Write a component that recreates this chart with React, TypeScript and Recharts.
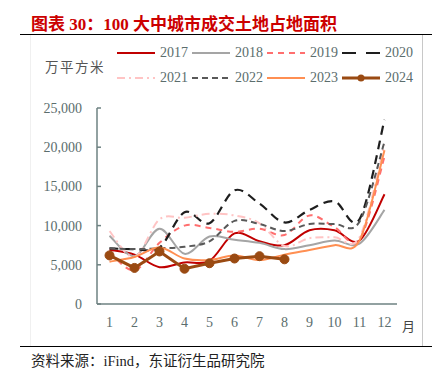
import React from 'react'
import { LineChart, Line, XAxis, YAxis } from 'recharts'

// months 1-12
const months = [1, 2, 3, 4, 5, 6, 7, 8, 9, 10, 11, 12]
const yTicks = [0, 5000, 10000, 15000, 20000, 25000]
const bandTicks = [0.5, 1.5, 2.5, 3.5, 4.5, 5.5, 6.5, 7.5, 8.5, 9.5, 10.5, 11.5, 12.5]

const s2017 = [6900, 6300, 4700, 5300, 5500, 9000, 8000, 7500, 9400, 9400, 8100, 14000]
const s2018 = [8700, 6100, 9600, 6400, 8600, 8200, 7800, 7000, 7500, 8100, 7700, 12000]
const s2019 = [6600, 4300, 7800, 10000, 9700, 9200, 9600, 8800, 11300, 9800, 8200, 18800]
const s2020 = [7100, 7000, 7200, 11700, 10300, 14500, 12800, 10400, 12000, 13100, 10800, 23500]
const s2021 = [9300, 6000, 10800, 11000, 11500, 11300, 10300, 7400, 8400, 8500, 8500, 20300]
const s2022 = [7100, 7000, 7100, 7300, 8000, 10600, 10200, 9300, 10200, 10200, 10500, 20700]
const s2023 = [5400, 6000, 7200, 5800, 5600, 6200, 5600, 6300, 6900, 7500, 8100, 19600]
const s2024 = [6200, 4600, 6700, 4500, 5200, 5800, 6100, 5700]

const data = months.map((m, i) => ({
  m,
  y2017: s2017[i],
  y2018: s2018[i],
  y2019: s2019[i],
  y2020: s2020[i],
  y2021: s2021[i],
  y2022: s2022[i],
  y2023: s2023[i],
  y2024: s2024[i],
}))

// style per series
const series = [
  { key: 'y2017', name: '2017', color: '#c00000', dash: undefined, w: 2, smooth: true },
  { key: 'y2018', name: '2018', color: '#a5a5a5', dash: undefined, w: 2, smooth: true },
  { key: 'y2019', name: '2019', color: '#ff6f6f', dash: '6 5', w: 2, smooth: true },
  { key: 'y2020', name: '2020', color: '#1e1e1e', dash: '9 6', w: 2.2, smooth: true },
  { key: 'y2021', name: '2021', color: '#ffc4c4', dash: '8 4 2 4', w: 2, smooth: true },
  { key: 'y2022', name: '2022', color: '#595959', dash: '6 4', w: 2, smooth: true },
  { key: 'y2023', name: '2023', color: '#ff8f52', dash: undefined, w: 2, smooth: true },
  { key: 'y2024', name: '2024', color: '#9a4a12', dash: undefined, w: 3, smooth: false },
]

// excel-like smoothed line (catmull-rom through the points)
const smoothCurve = (ctx: any) => {
  let pts: number[][] = []
  return {
    areaStart() {},
    areaEnd() {},
    lineStart() { pts = [] },
    point(x: number, y: number) { pts.push([+x, +y]) },
    lineEnd() {
      if (!pts.length) return
      ctx.moveTo(pts[0][0], pts[0][1])
      for (let i = 0; i < pts.length - 1; i++) {
        const p0 = pts[Math.max(i - 1, 0)]
        const p1 = pts[i]
        const p2 = pts[i + 1]
        const p3 = pts[Math.min(i + 2, pts.length - 1)]
        ctx.bezierCurveTo(
          p1[0] + (p2[0] - p0[0]) / 6, p1[1] + (p2[1] - p0[1]) / 6,
          p2[0] - (p3[0] - p1[0]) / 6, p2[1] - (p3[1] - p1[1]) / 6,
          p2[0], p2[1]
        )
      }
    },
  }
}

const axisColor = '#6e8282'
const textColor = '#5b6d6d'
const serif = "'Liberation Serif', 'DejaVu Serif', serif"
const cjk = "'Liberation Serif', 'Noto Sans CJK SC', sans-serif"

function LegendItem({ s }: { s: typeof series[number] }) {
  return (
    <div style={{ display: 'flex', alignItems: 'center', width: 75, height: 16 }}>
      <svg width={39} height={10} style={{ marginRight: 4 }}>
        <line x1={0} y1={5} x2={38} y2={5} stroke={s.color} strokeWidth={s.w} strokeDasharray={s.dash ? (s.key === 'y2020' ? '14 10' : s.dash) : undefined} />
        {s.key === 'y2024' && <circle cx={19} cy={5} r={3.5} fill={s.color} />}
      </svg>
      <span style={{ fontFamily: serif, fontSize: 14, color: textColor, lineHeight: '16px' }}>{s.name}</span>
    </div>
  )
}

export default function App() {
  return (
    <div style={{ position: 'absolute', left: 0, top: 0, width: 441, height: 377, background: '#fff', overflow: 'hidden' }}>
      {/* title */}
      <div style={{ position: 'absolute', left: 31, top: 10, fontFamily: cjk, fontSize: 17, fontWeight: 700, color: '#cc0000', whiteSpace: 'nowrap' }}>
        图表 30：100 大中城市成交土地占地面积
      </div>
      <div style={{ position: 'absolute', left: 20, top: 34, width: 412, height: 1, background: '#000' }} />
      <div style={{ position: 'absolute', left: 30, top: 35, width: 1, height: 312, background: '#f0f0f0' }} />
      <div style={{ position: 'absolute', left: 422, top: 35, width: 1, height: 312, background: '#c8c8c8' }} />

      {/* unit */}
      <div style={{ position: 'absolute', left: 45, top: 56, fontFamily: "'Noto Sans CJK SC', sans-serif", fontSize: 13.5, letterSpacing: 1.5, color: '#555' }}>
        万平方米
      </div>

      {/* legend */}
      <div style={{ position: 'absolute', left: 117, top: 45, width: 310, display: 'flex', flexWrap: 'wrap', rowGap: 9 }}>
        {series.map(s => <LegendItem key={s.key} s={s} />)}
      </div>

      <div style={{ position: 'absolute', left: 0, top: 0 }}>
        <LineChart width={441} height={377} data={data} margin={{ top: 108, right: 44, bottom: 43, left: 0 }}>
          <XAxis xAxisId="b" dataKey="m" type="number" domain={[0.5, 12.5]} ticks={bandTicks} tick={false} tickSize={-4} axisLine={false} height={0} stroke={axisColor} />
          <XAxis dataKey="m" type="number" domain={[0.5, 12.5]} ticks={months} interval={0} tickLine={false} tickSize={-4} tickMargin={17} height={30} stroke={axisColor} strokeWidth={1.5}
            tick={{ fill: textColor, fontSize: 14, fontFamily: serif }} />
          <YAxis type="number" domain={[0, 25000]} ticks={yTicks} width={97} tickSize={-4} tickMargin={19} stroke={axisColor} strokeWidth={1.5}
            tickFormatter={(v: number) => v.toLocaleString('en-US')}
            tick={{ fill: textColor, fontSize: 14, fontFamily: serif }} />
          {series.map(s => (
            <Line key={s.key} dataKey={s.key} name={s.name} type={s.smooth ? (smoothCurve as any) : 'linear'}
              stroke={s.color} strokeWidth={s.w} strokeDasharray={s.dash}
              dot={s.key === 'y2024' ? { r: 4.5, fill: s.color, stroke: s.color, strokeWidth: 1 } : false}
              activeDot={false} isAnimationActive={false} connectNulls={false} />
          ))}
        </LineChart>
      </div>

      <div style={{ position: 'absolute', left: 402, top: 316, fontFamily: "'Noto Sans CJK SC', sans-serif", fontSize: 13, color: '#444' }}>月</div>

      <div style={{ position: 'absolute', left: 20, top: 346, width: 412, height: 1, background: '#000' }} />
      <div style={{ position: 'absolute', left: 31, top: 349, fontFamily: cjk, fontSize: 14.5, color: '#222', whiteSpace: 'nowrap' }}>
        资料来源：iFind，东证衍生品研究院
      </div>
    </div>
  )
}
